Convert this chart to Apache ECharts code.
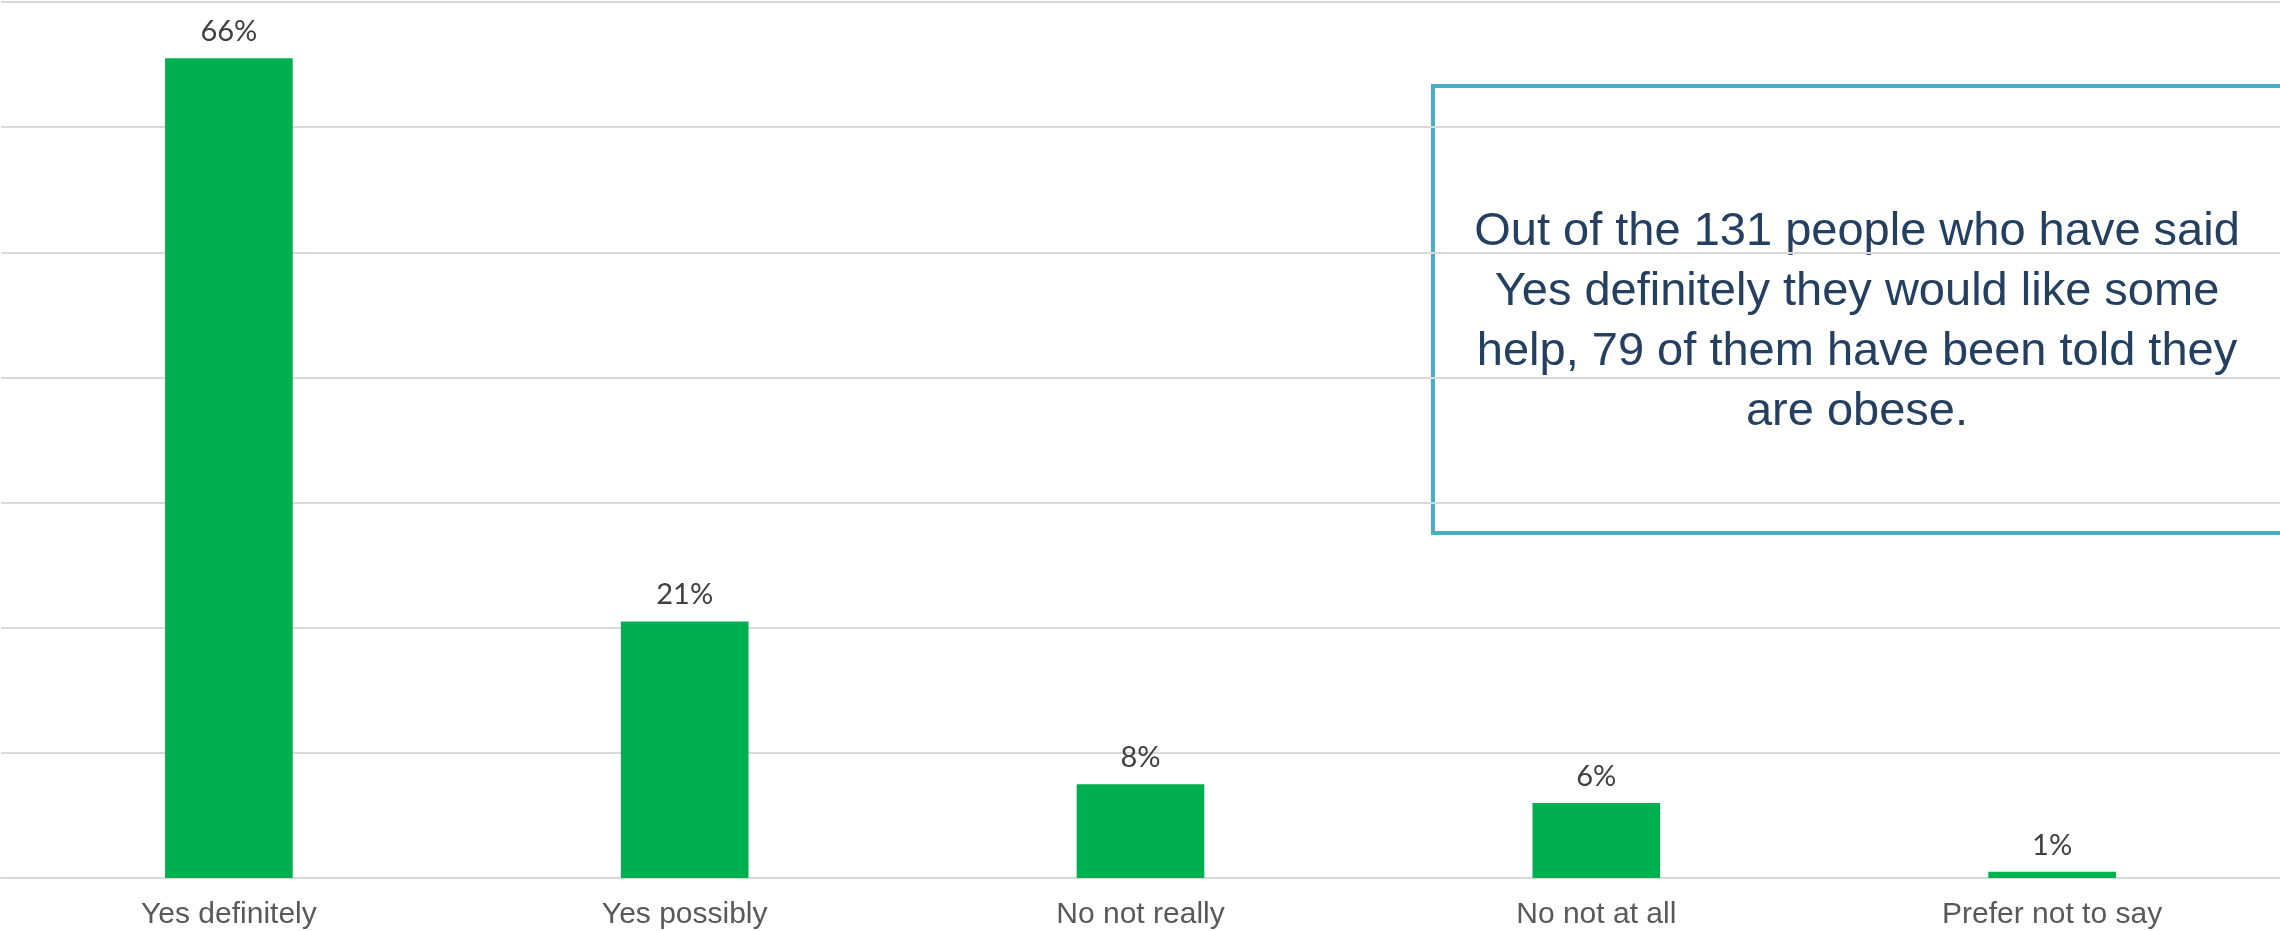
<!DOCTYPE html>
<html>
<head>
<meta charset="utf-8">
<script src="https://cdn.jsdelivr.net/npm/echarts@6/dist/echarts.min.js"></script>
<style>
  html, body { margin: 0; padding: 0; background: #ffffff; }
  #chart { width: 2280px; height: 931px; }
</style>
</head>
<body>
<div id="chart"></div>
<script>
// ---- data ----
const categories = ['Yes definitely', 'Yes possibly', 'No not really', 'No not at all', 'Prefer not to say'];
const values = [65.5, 20.5, 7.5, 6.0, 0.5];   // percent of respondents
const yTicks = [0, 10, 20, 30, 40, 50, 60, 70];
const noteText = 'Out of the 131 people who have said\nYes definitely they would like some\nhelp, 79 of them have been told they\nare obese.';

const chart = echarts.init(document.getElementById('chart'), null, { renderer: 'canvas' });

const option = {
  backgroundColor: '#ffffff',
  animation: false,
  grid: { left: 1, right: 0, top: 2, bottom: 53, containLabel: false },
  xAxis: {
    type: 'category',
    data: categories,
    axisLine: { show: true, lineStyle: { color: '#D9D9D9', width: 2 } },
    axisTick: { show: false },
    axisLabel: {
      color: '#595959',
      fontFamily: 'Liberation Sans, Arial, sans-serif',
      fontSize: 30,
      margin: 22
    }
  },
  yAxis: {
    type: 'value',
    min: yTicks[0],
    max: yTicks[yTicks.length - 1],
    interval: yTicks[1] - yTicks[0],
    axisLine: { show: false },
    axisTick: { show: false },
    axisLabel: { show: false },
    splitLine: { show: true, lineStyle: { color: '#D9D9D9', width: 2 } }
  },
  series: [{
    type: 'bar',
    data: values,
    barWidth: '28%',
    itemStyle: { color: '#00B050' },
    label: {
      show: true,
      position: 'top',
      distance: 12,
      color: '#404040',
      fontFamily: 'Lato, Carlito, Calibri, sans-serif',
      fontSize: 29,
      formatter: p => Math.round(p.value) + '%'
    }
  }],
  graphic: [{
    type: 'group',
    left: 1431,
    top: 84,
    children: [
      {
        type: 'rect',
        shape: { x: 0, y: 0, width: 900, height: 447 },
        style: { fill: '#ffffff', stroke: '#4BACC6', lineWidth: 4 }
      },
      {
        type: 'text',
        x: 424,
        y: 236,
        style: {
          text: noteText,
          fill: '#243F60',
          font: '47px "Liberation Sans", Arial, sans-serif',
          lineHeight: 60,
          align: 'center',
          verticalAlign: 'middle'
        }
      }
    ]
  }]
};

chart.setOption(option);
</script>
</body>
</html>
